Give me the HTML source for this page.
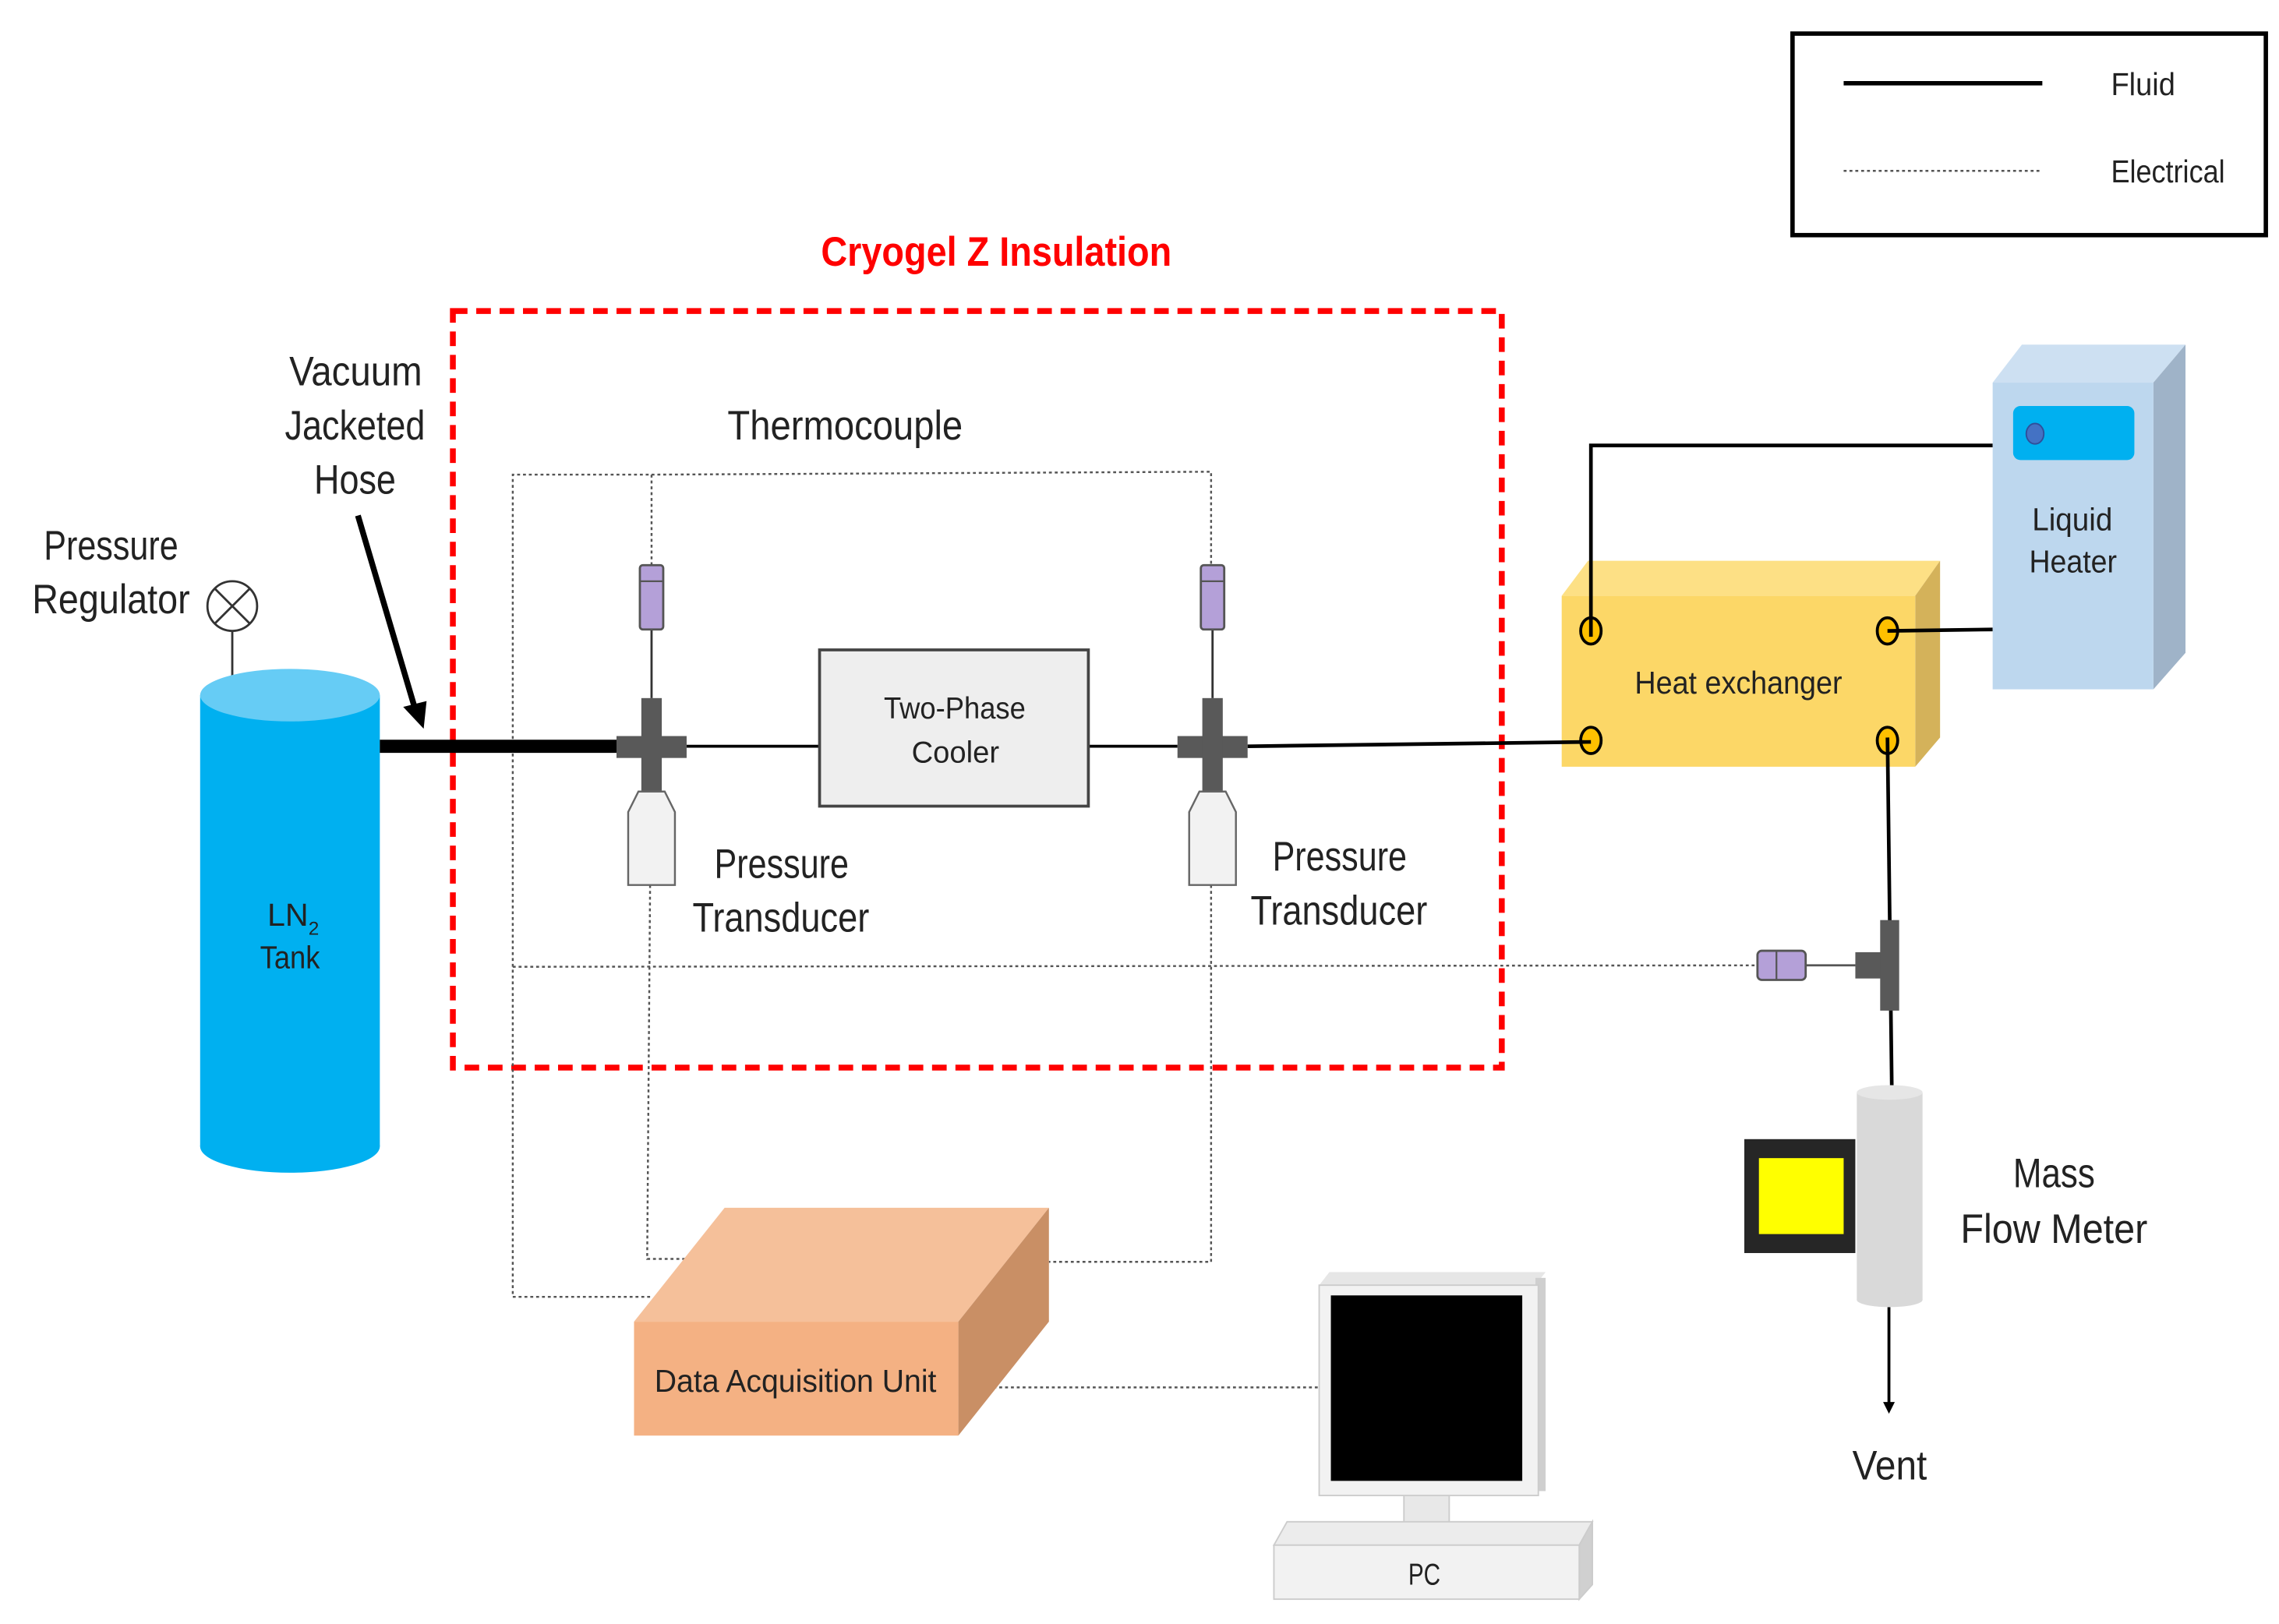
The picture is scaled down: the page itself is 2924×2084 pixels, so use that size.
<!DOCTYPE html>
<html><head><meta charset="utf-8"><style>
html,body{margin:0;padding:0;background:#fff}
svg{display:block}
text{font-family:"Liberation Sans",sans-serif;fill:#222}
</style></head><body>
<svg width="2924" height="2084" viewBox="0 0 1560 1112" preserveAspectRatio="none" xmlns="http://www.w3.org/2000/svg">
<defs><marker id="ah" markerWidth="8" markerHeight="8" refX="6" refY="4" orient="auto" markerUnits="userSpaceOnUse"><path d="M0,0 L8,4 L0,8 z" fill="#000"/></marker></defs>
<!-- legend -->
<rect x="1227" y="23" width="324" height="138" fill="#fff" stroke="#000" stroke-width="3"/>
<line x1="1262" y1="57" x2="1398" y2="57" stroke="#000" stroke-width="3"/>
<line x1="1262" y1="117" x2="1398" y2="117" stroke="#555" stroke-width="1.3" stroke-dasharray="2,2"/>
<text x="1445" y="65" font-size="22" textLength="44" lengthAdjust="spacingAndGlyphs">Fluid</text>
<text x="1445" y="125" font-size="22" textLength="78" lengthAdjust="spacingAndGlyphs">Electrical</text>
<!-- title -->
<text x="562" y="182" font-size="28" font-weight="bold" textLength="240" lengthAdjust="spacingAndGlyphs" style="fill:#ff0000">Cryogel Z Insulation</text>
<rect x="310" y="213" width="718" height="518" fill="none" stroke="#ff0000" stroke-width="4" stroke-dasharray="10,6"/>
<!-- electrical dotted -->
<g fill="none" stroke="#555" stroke-width="1.3" stroke-dasharray="2,2">
<polyline points="446,387 446,325 351,325 351,888 445,888"/>
<polyline points="446,325 829,323 829,387"/>
<line x1="351" y1="662" x2="1203" y2="661"/>
<polyline points="445,606 443,862 470,862"/>
<polyline points="829,606 829,864 718,864"/>
<line x1="680" y1="950" x2="903" y2="950"/>
</g>
<!-- labels -->
<g font-size="28">
<text x="198" y="264" textLength="91" lengthAdjust="spacingAndGlyphs">Vacuum</text>
<text x="195" y="301" textLength="96" lengthAdjust="spacingAndGlyphs">Jacketed</text>
<text x="215" y="338" textLength="56" lengthAdjust="spacingAndGlyphs">Hose</text>
<text x="30" y="383" textLength="92" lengthAdjust="spacingAndGlyphs">Pressure</text>
<text x="22" y="420" textLength="108" lengthAdjust="spacingAndGlyphs">Regulator</text>
<text x="498" y="301" textLength="161" lengthAdjust="spacingAndGlyphs">Thermocouple</text>
<text x="489" y="601" textLength="92" lengthAdjust="spacingAndGlyphs">Pressure</text>
<text x="474" y="638" textLength="121" lengthAdjust="spacingAndGlyphs">Transducer</text>
<text x="871" y="596" textLength="92" lengthAdjust="spacingAndGlyphs">Pressure</text>
<text x="856" y="633" textLength="121" lengthAdjust="spacingAndGlyphs">Transducer</text>
<text x="1378" y="813" textLength="56" lengthAdjust="spacingAndGlyphs">Mass</text>
<text x="1342" y="851" textLength="128" lengthAdjust="spacingAndGlyphs">Flow Meter</text>
<text x="1268" y="1013" textLength="51" lengthAdjust="spacingAndGlyphs">Vent</text>
</g>
<!-- regulator -->
<line x1="159" y1="432" x2="159" y2="465" stroke="#333" stroke-width="1.5"/>
<circle cx="159" cy="415" r="17" fill="#fff" stroke="#333" stroke-width="1.5"/>
<line x1="147" y1="403" x2="171" y2="427" stroke="#333" stroke-width="1.5"/>
<line x1="171" y1="403" x2="147" y2="427" stroke="#333" stroke-width="1.5"/>
<!-- tank -->
<rect x="137" y="476" width="123" height="309" fill="#00b0f0"/>
<ellipse cx="198.5" cy="785" rx="61.5" ry="18" fill="#00b0f0"/>
<ellipse cx="198.5" cy="476" rx="61.5" ry="18" fill="#66ccf5"/>
<text x="183" y="634" font-size="22">LN<tspan font-size="13" dy="6">2</tspan></text>
<text x="178" y="663" font-size="22" textLength="41" lengthAdjust="spacingAndGlyphs">Tank</text>
<!-- arrow -->
<line x1="245" y1="353" x2="284" y2="485" stroke="#000" stroke-width="4"/>
<path d="M276,484 L290,499 L292,480 z" fill="#000"/>
<!-- heat exchanger -->
<polygon points="1069,408 1087,384 1328,384 1311,408" fill="#fde085"/>
<polygon points="1311,408 1328,384 1328,505 1311,525" fill="#d4b25a"/>
<rect x="1069" y="408" width="242" height="117" fill="#fcd767"/>
<text x="1119" y="475" font-size="22" textLength="142" lengthAdjust="spacingAndGlyphs">Heat exchanger</text>
<g fill="#ffc000" stroke="#000" stroke-width="2">
<ellipse cx="1089" cy="432" rx="7" ry="9"/><ellipse cx="1292" cy="432" rx="7" ry="9"/>
<ellipse cx="1089" cy="507" rx="7" ry="9"/><ellipse cx="1292" cy="507" rx="7" ry="9"/>
</g>
<!-- fluid lines -->
<line x1="260" y1="511" x2="425" y2="511" stroke="#000" stroke-width="9"/>
<line x1="470" y1="511" x2="561" y2="511" stroke="#000" stroke-width="2"/>
<line x1="745" y1="511" x2="806" y2="511" stroke="#000" stroke-width="2"/>
<line x1="854" y1="511" x2="1089" y2="508" stroke="#000" stroke-width="2.5"/>
<polyline points="1089,436 1089,305 1364,305" fill="none" stroke="#000" stroke-width="2.5"/>
<line x1="1292" y1="432" x2="1364" y2="431" stroke="#000" stroke-width="2.5"/>
<line x1="1292" y1="505" x2="1295" y2="748" stroke="#000" stroke-width="2.5"/>
<line x1="1293" y1="895" x2="1293" y2="966" stroke="#000" stroke-width="2" marker-end="url(#ah)"/>
<!-- cooler -->
<rect x="561" y="445" width="184" height="107" fill="#eeeeee" stroke="#444" stroke-width="2"/>
<text x="605" y="492" font-size="21" textLength="97" lengthAdjust="spacingAndGlyphs">Two-Phase</text>
<text x="624" y="522" font-size="21" textLength="60" lengthAdjust="spacingAndGlyphs">Cooler</text>
<!-- fittings & sensors -->
<g>
<line x1="446" y1="431" x2="446" y2="478" stroke="#333" stroke-width="1.5"/>
<rect x="438" y="387" width="16" height="44" rx="2" fill="#b4a0d8" stroke="#555" stroke-width="1.5"/>
<line x1="438" y1="398" x2="454" y2="398" stroke="#555" stroke-width="1.2"/>
<rect x="422" y="504" width="48" height="15" fill="#595959"/>
<rect x="439" y="478" width="14" height="64" fill="#595959"/>
<path d="M437,542 L455,542 L462,556 L462,606 L430,606 L430,556 z" fill="#f2f2f2" stroke="#666" stroke-width="1.3"/>
</g>
<g transform="translate(384,0)">
<line x1="446" y1="431" x2="446" y2="478" stroke="#333" stroke-width="1.5"/>
<rect x="438" y="387" width="16" height="44" rx="2" fill="#b4a0d8" stroke="#555" stroke-width="1.5"/>
<line x1="438" y1="398" x2="454" y2="398" stroke="#555" stroke-width="1.2"/>
<rect x="422" y="504" width="48" height="15" fill="#595959"/>
<rect x="439" y="478" width="14" height="64" fill="#595959"/>
<path d="M437,542 L455,542 L462,556 L462,606 L430,606 L430,556 z" fill="#f2f2f2" stroke="#666" stroke-width="1.3"/>
</g>
<!-- liquid heater -->
<polygon points="1364,262 1384,236 1496,236 1474,262" fill="#cde0f2"/>
<polygon points="1474,262 1496,236 1496,447 1474,472" fill="#9fb3c8"/>
<rect x="1364" y="262" width="110" height="210" fill="#bdd7ee"/>
<rect x="1378" y="278" width="83" height="37" rx="5" fill="#00b0f0"/>
<ellipse cx="1393" cy="297" rx="6" ry="7" fill="#4472c4" stroke="#2f4f9a" stroke-width="1"/>
<text x="1391" y="363" font-size="22" textLength="55" lengthAdjust="spacingAndGlyphs">Liquid</text>
<text x="1389" y="392" font-size="22" textLength="60" lengthAdjust="spacingAndGlyphs">Heater</text>
<!-- T fitting + thermocouple -->
<line x1="1236" y1="661" x2="1270" y2="661" stroke="#555" stroke-width="1.5"/>
<rect x="1203" y="651" width="33" height="20" rx="3" fill="#b4a0d8" stroke="#555" stroke-width="1.5"/>
<line x1="1216" y1="651" x2="1216" y2="671" stroke="#555" stroke-width="1.2"/>
<rect x="1270" y="652" width="24" height="18" fill="#595959"/>
<rect x="1287" y="630" width="13" height="62" fill="#595959"/>
<!-- mass flow meter -->
<rect x="1271" y="748" width="45" height="142" fill="#d9d9d9"/>
<ellipse cx="1293.5" cy="748" rx="22.5" ry="5" fill="#e6e6e6"/>
<ellipse cx="1293.5" cy="890" rx="22.5" ry="5" fill="#d9d9d9"/>
<rect x="1194" y="780" width="76" height="78" fill="#262626"/>
<rect x="1204" y="793" width="58" height="52" fill="#ffff00"/>
<!-- DAQ -->
<polygon points="434,905 496,827 718,827 656,905" fill="#f5c09a"/>
<polygon points="656,905 718,827 718,905 656,983" fill="#c98f65"/>
<rect x="434" y="905" width="222" height="78" fill="#f4b183"/>
<text x="448" y="953" font-size="22" textLength="193" lengthAdjust="spacingAndGlyphs">Data Acquisition Unit</text>
<!-- PC -->
<rect x="961" y="1022" width="31" height="28" fill="#e8e8e8" stroke="#ccc"/>
<polygon points="872,1058 881,1042 1090,1042 1081,1058" fill="#ececec" stroke="#ccc"/>
<polygon points="1081,1058 1090,1042 1090,1085 1081,1095" fill="#d0d0d0" stroke="#ccc"/>
<rect x="872" y="1058" width="209" height="37" fill="#f2f2f2" stroke="#ccc"/>
<text x="964" y="1085" font-size="21" textLength="22" lengthAdjust="spacingAndGlyphs">PC</text>
<polygon points="903,880 910,871 1058,871 1051,880" fill="#e6e6e6"/>
<rect x="1051" y="875" width="7" height="146" fill="#cfcfcf"/>
<rect x="903" y="880" width="150" height="144" fill="#f2f2f2" stroke="#ccc"/>
<rect x="911" y="887" width="131" height="127" fill="#000"/>
</svg>
</body></html>
